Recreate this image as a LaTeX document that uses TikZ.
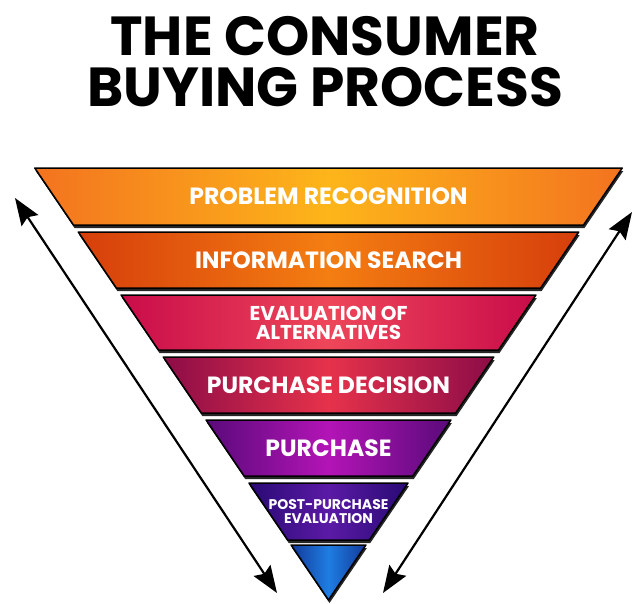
\documentclass[tikz,border=0pt]{standalone}
\usepackage{fontspec}
\usepackage{xcolor}
\usepackage{tikz}
\usetikzlibrary{arrows.meta}
\usetikzlibrary{positioning}
\newfontfamily\handfont{Poppins}

\definecolor{probedge}{HTML}{F3731F}
\definecolor{probmid}{HTML}{FDB51A}
\definecolor{infoedge}{HTML}{D63E0B}
\definecolor{infomid}{HTML}{F47E12}
\definecolor{evaledge}{HTML}{C90C4A}
\definecolor{evalmid}{HTML}{EE4659}
\definecolor{decedge}{HTML}{8C0C47}
\definecolor{decmid}{HTML}{E6324B}
\definecolor{purchedge}{HTML}{5A0A7A}
\definecolor{purchmid}{HTML}{B314B6}
\definecolor{postedge}{HTML}{290A74}
\definecolor{postmid}{HTML}{5B1AA6}
\definecolor{apexedge}{HTML}{123A9A}
\definecolor{apexmid}{HTML}{1F7DE2}

\tikzset{
  titleline/.style={inner sep=0pt, text height=39pt, text depth=0pt,
    font=\handfont\bfseries\fontsize{55}{55}\selectfont},
  layerlabel/.style={text=white, align=center, inner sep=0pt},
  twoway/.style={arrows={Stealth[length=27pt,width=20pt,inset=4pt]-Stealth[length=27pt,width=20pt,inset=4pt]},
    line width=2.2pt},
}

\begin{document}
\begin{tikzpicture}[x=1pt, y=-1pt]
  \useasboundingbox (0, 0) rectangle (635, 603);

  \node[titleline] (titletop) at (325, 36) {THE CONSUMER};
  \node[titleline] (titlebot) at (325, 87) {BUYING PROCESS};

  \foreach \top/\bot/\edge/\mid [count=\i] in {
      168/225/probedge/probmid, 232/288/infoedge/infomid,
      295/350/evaledge/evalmid, 357/413/decedge/decmid,
      420/476/purchedge/purchmid, 483/540/postedge/postmid,
      545/600/apexedge/apexmid} {
    \pgfmathsetmacro\wt{0.68*(600-\top)}
    \pgfmathsetmacro\wb{0.68*(600-\bot)}
    \fill[black!85] (328.5-\wt+1, \top+3) -- (328.5+\wt+1, \top+3)
      -- (328.5+\wb+1, \bot+3) -- (328.5-\wb+1, \bot+3) -- cycle;
    \shadedraw[left color=\edge, right color=\edge, middle color=\mid,
      draw=black, line width=1.5pt, line join=round]
      (328.5-\wt, \top) -- (328.5+\wt, \top)
      -- (328.5+\wb, \bot) -- (328.5-\wb, \bot) -- cycle;
    \coordinate (layer\i) at (328.5, {(\top+\bot)/2});
  }

  \node[layerlabel, font=\handfont\bfseries\fontsize{23.5}{23.5}\selectfont]
    (problem) at (layer1) {PROBLEM RECOGNITION};
  \node[layerlabel, font=\handfont\bfseries\fontsize{23.5}{23.5}\selectfont]
    (search) at (layer2) {INFORMATION SEARCH};
  \node[layerlabel, font=\handfont\bfseries\fontsize{20}{19}\selectfont]
    (alternatives) at (layer3) {EVALUATION OF\\ALTERNATIVES};
  \node[layerlabel, font=\handfont\bfseries\fontsize{23.5}{23.5}\selectfont]
    (decision) at (layer4) {PURCHASE DECISION};
  \node[layerlabel, font=\handfont\bfseries\fontsize{23.5}{23.5}\selectfont]
    (purchase) at (layer5) {PURCHASE};
  \node[layerlabel, font=\handfont\bfseries\fontsize{14}{14}\selectfont]
    (post) at (layer6) {POST-PURCHASE\\EVALUATION};

  \coordinate (lefttop) at (15, 198);
  \coordinate (leftbot) at (277, 593);
  \coordinate (righttop) at (632, 212);
  \coordinate (rightbot) at (383, 593);
  \draw[twoway] (lefttop) -- (leftbot);
  \draw[twoway] (righttop) -- (rightbot);

\end{tikzpicture}
\end{document}
